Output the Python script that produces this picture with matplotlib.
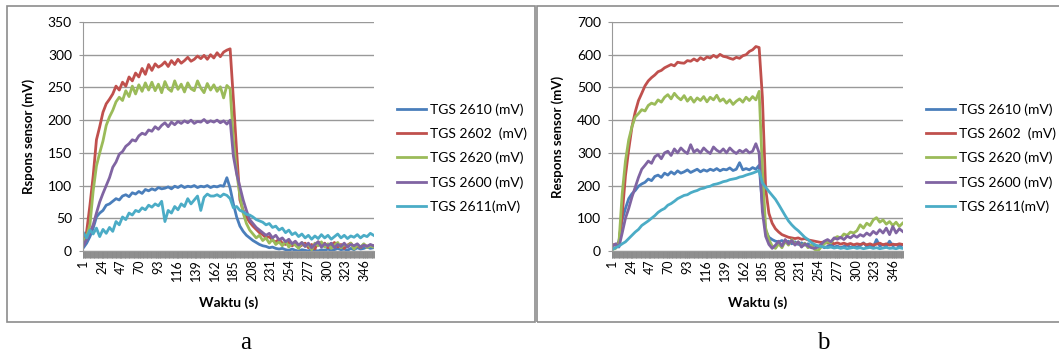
import matplotlib
matplotlib.use('Agg')
import matplotlib.pyplot as plt
import matplotlib.patches as pch
import numpy as np

plt.rcParams['font.family'] = ['Lato', 'DejaVu Sans']

# sample times (s), every 4 s of the 357 s record
waktu = list(range(1, 358, 4))

labels = ['TGS 2610 (mV)', 'TGS 2602  (mV)', 'TGS 2620 (mV)', 'TGS 2600 (mV)', 'TGS 2611(mV)']
colors = ['#4a7ebb', '#c0504d', '#9bbb59', '#8064a2', '#4bacc6']

# --- panel a ---
blue_a = [5, 12, 22, 35, 52, 58, 62, 70, 72, 76, 80, 78, 84, 86, 83, 89, 87, 91, 88, 94,
          92, 95, 93, 97, 95, 96, 98, 95, 99, 97, 100, 97, 99, 98, 100, 97, 99, 98, 100, 97,
          99, 98, 100, 99, 112, 96, 72, 52, 38, 30, 24, 20, 16, 13, 10, 8, 7, 5, 6, 4,
          3, 4, 2, 1, 3, 1, 0, 2, 1, 0, 3, 1, 0, 2, 1, 3, 1, 2, 4, 2,
          3, 1, 4, 2, 5, 3, 4, 6, 4, 5]
red_a = [10, 30, 70, 115, 170, 190, 212, 225, 232, 240, 252, 246, 258, 252, 266, 260, 272, 266, 279, 270,
         285, 276, 286, 281, 284, 289, 282, 291, 285, 293, 287, 291, 296, 290, 293, 298, 294, 299, 293, 300,
         295, 303, 297, 304, 307, 309, 232, 152, 78, 62, 52, 44, 38, 33, 28, 25, 20, 22, 16, 14,
         18, 12, 10, 14, 8, 11, 6, 9, 12, 5, 10, 3, 14, 7, 12, 5, 9, 13, 6, 10,
         4, 9, 12, 6, 8, 5, 10, 7, 9, 8]
green_a = [15, 22, 40, 92, 130, 150, 168, 192, 205, 215, 228, 235, 230, 245, 236, 252, 240, 254, 244, 257,
           246, 258, 245, 255, 242, 259, 248, 244, 260, 247, 255, 243, 257, 248, 245, 260, 249, 242, 256, 246,
           254, 244, 251, 234, 253, 248, 170, 120, 85, 58, 42, 32, 26, 20, 24, 16, 20, 12, 18, 10,
           14, 8, 15, 6, 12, 9, 4, 13, 7, 10, 2, 12, 8, 14, 6, 11, 4, 9, 13, 5,
           10, 7, 12, 3, 9, 6, 11, 5, 8, 6]
purple_a = [8, 18, 28, 40, 58, 75, 88, 100, 112, 128, 136, 148, 152, 160, 164, 170, 168, 176, 180, 178,
            185, 183, 190, 186, 192, 196, 190, 197, 193, 198, 195, 199, 196, 200, 195, 198, 197, 201, 196, 199,
            197, 200, 196, 199, 194, 200, 145, 118, 98, 78, 62, 48, 42, 36, 32, 28, 24, 27, 20, 24,
            17, 20, 14, 18, 11, 15, 9, 13, 7, 12, 5, 10, 14, 6, 11, 8, 12, 5, 10, 7,
            12, 6, 10, 8, 11, 6, 9, 7, 10, 8]
cyan_a = [28, 20, 32, 26, 35, 22, 33, 27, 36, 30, 45, 40, 52, 48, 58, 55, 62, 60, 66, 63,
          70, 67, 72, 69, 76, 45, 62, 58, 68, 63, 72, 68, 80, 72, 78, 84, 62, 82, 87, 84,
          84, 86, 83, 87, 85, 80, 66, 68, 62, 60, 56, 55, 52, 48, 46, 44, 40, 42, 36, 38,
          32, 35, 28, 32, 25, 28, 22, 26, 20, 24, 18, 23, 19, 25, 20, 24, 18, 22, 26, 20,
          24, 19, 23, 21, 25, 20, 24, 22, 27, 24]

# --- panel b ---
blue_b = [5, 10, 30, 95, 130, 160, 175, 185, 198, 205, 210, 220, 215, 228, 232, 225, 238, 232, 242, 235,
          245, 238, 242, 248, 240, 245, 250, 242, 248, 244, 250, 246, 252, 245, 250, 248, 254, 246, 250, 270,
          248, 252, 248, 255, 250, 262, 140, 62, 42, 35, 30, 28, 32, 25, 30, 22, 28, 20, 25, 18,
          22, 15, 18, 12, 16, 10, 14, 20, 12, 15, 10, 14, 18, 11, 15, 12, 16, 25, 14, 18,
          12, 35, 15, 20, 14, 30, 16, 20, 14, 18]
red_b = [20, 18, 25, 110, 230, 310, 380, 425, 460, 482, 505, 520, 530, 538, 548, 552, 560, 565, 570, 566,
         577, 575, 574, 582, 580, 587, 581, 591, 585, 593, 590, 598, 592, 601, 595, 593, 589, 586, 592, 589,
         597, 600, 610, 615, 625, 622, 470, 190, 115, 85, 68, 58, 50, 46, 42, 40, 38, 40, 36, 38,
         34, 32, 30, 28, 26, 28, 24, 26, 22, 25, 21, 24, 20, 23, 19, 22, 20, 23, 19, 22,
         18, 21, 24, 19, 22, 18, 21, 19, 22, 20]
green_b = [5, 8, 25, 175, 275, 340, 380, 410, 420, 432, 428, 445, 452, 448, 462, 455, 470, 478, 465, 482,
           470, 462, 475, 458, 470, 455, 468, 460, 472, 456, 470, 462, 476, 458, 465, 452, 462, 448, 458, 465,
           455, 470, 460, 472, 462, 488, 250, 70, 35, 15, 8, 22, 10, 30, 18, 35, 20, 28, 14, 24,
           10, 18, 5, 0, 12, 22, 28, 25, 38, 44, 40, 52, 48, 58, 55, 62, 80, 70, 85, 78,
           95, 102, 88, 95, 82, 90, 78, 88, 75, 85]
purple_b = [15, 22, 12, 55, 100, 130, 165, 195, 225, 250, 262, 275, 268, 288, 295, 282, 300, 305, 292, 312,
            300, 315, 305, 298, 325, 302, 310, 300, 315, 305, 298, 318, 308, 302, 312, 300, 315, 305, 298, 308,
            302, 310, 300, 305, 328, 300, 120, 45, 20, 8, 18, 30, 15, 35, 22, 32, 18, 28, 12, 22,
            15, 10, 8, 12, 20, 30, 35, 28, 40, 36, 42, 35, 45, 40, 48, 42, 50, 45, 55, 48,
            60, 52, 65, 55, 70, 50, 75, 55, 68, 60]
cyan_b = [5, 10, 15, 22, 28, 38, 48, 58, 66, 78, 85, 92, 100, 108, 118, 125, 130, 140, 145, 152,
          160, 165, 170, 172, 178, 182, 185, 190, 192, 196, 198, 203, 205, 208, 212, 214, 218, 220, 222, 226,
          228, 232, 235, 238, 242, 246, 208, 195, 182, 170, 158, 142, 125, 108, 92, 80, 70, 62, 52, 42,
          35, 26, 20, 16, 14, 12, 10, 12, 9, 11, 8, 10, 7, 9, 11, 8, 10, 7, 9, 11,
          8, 10, 7, 9, 11, 8, 9, 7, 10, 8]

series_a = [blue_a, red_a, green_a, purple_a, cyan_a]
series_b = [blue_b, red_b, green_b, purple_b, cyan_b]

xticks = list(range(1, 358, 23))
W, H = 1059, 356

fig = plt.figure(figsize=(W / 100, H / 100), dpi=100)

# panel frames
fig.patches.append(pch.Rectangle((7 / W, 1 - 322 / H), 528 / W, 316 / H, transform=fig.transFigure,
                                 fill=False, edgecolor='#8c8c8c', lw=1.2))
fig.patches.append(pch.Rectangle((537 / W, 1 - 322 / H), 530 / W, 316 / H, transform=fig.transFigure,
                                 fill=False, edgecolor='#8c8c8c', lw=1.2))


def panel(left, data, ymax, ylabel, leg_x, letter, letter_x):
    ax = fig.add_axes([left / W, 1 - 251 / H, 291 / W, 229 / H])
    for vals, lab, col in zip(data, labels, colors):
        ax.plot(waktu, vals, color=col, lw=2, label=lab, solid_joinstyle='round')
    ax.set_xlim(0.5, 357.5)
    ax.set_ylim(0, ymax)
    ax.set_yticks(np.arange(0, ymax + 1, ymax // 7))
    ax.set_xticks(xticks)
    ax.set_xticks(np.arange(0.5, 358, 1), minor=True)
    ax.tick_params(axis='x', which='both', direction='out', length=5, width=0.7, color='#8c8c8c',
                   labelsize=9, labelrotation=90, pad=1)
    ax.tick_params(axis='y', direction='out', length=3, width=0.8, color='#999999', labelsize=10, pad=5)
    ax.grid(axis='y', color='#999999', lw=1)
    ax.set_axisbelow(True)
    for s in ['top', 'right']:
        ax.spines[s].set_visible(False)
    for s in ['left', 'bottom']:
        ax.spines[s].set_color('#999999')
    ax.set_ylabel(ylabel, fontsize=9.5, fontweight='bold')
    ax.yaxis.set_label_coords(-0.165, 0.5)
    ax.set_xlabel('Waktu (s)', fontsize=10, fontweight='bold')
    ax.xaxis.set_label_coords(0.5, -0.2)
    ax.legend(loc='upper left', bbox_to_anchor=(leg_x / W, 1 - 103 / H), bbox_transform=fig.transFigure,
              frameon=False, fontsize=10, handlelength=2.1, handletextpad=0.25, labelspacing=0.85,
              borderpad=0, borderaxespad=0)
    fig.text(letter_x / W, 1 - 343 / H, letter, ha='center', va='center', fontsize=18,
             family='Liberation Serif')
    return ax


panel(83, series_a, 350, 'Rspons sensor (mV)', 397, 'a', 246)
panel(612, series_b, 700, 'Respons sensor (mV)', 926, 'b', 823)

fig.savefig('out.png', dpi=100)
